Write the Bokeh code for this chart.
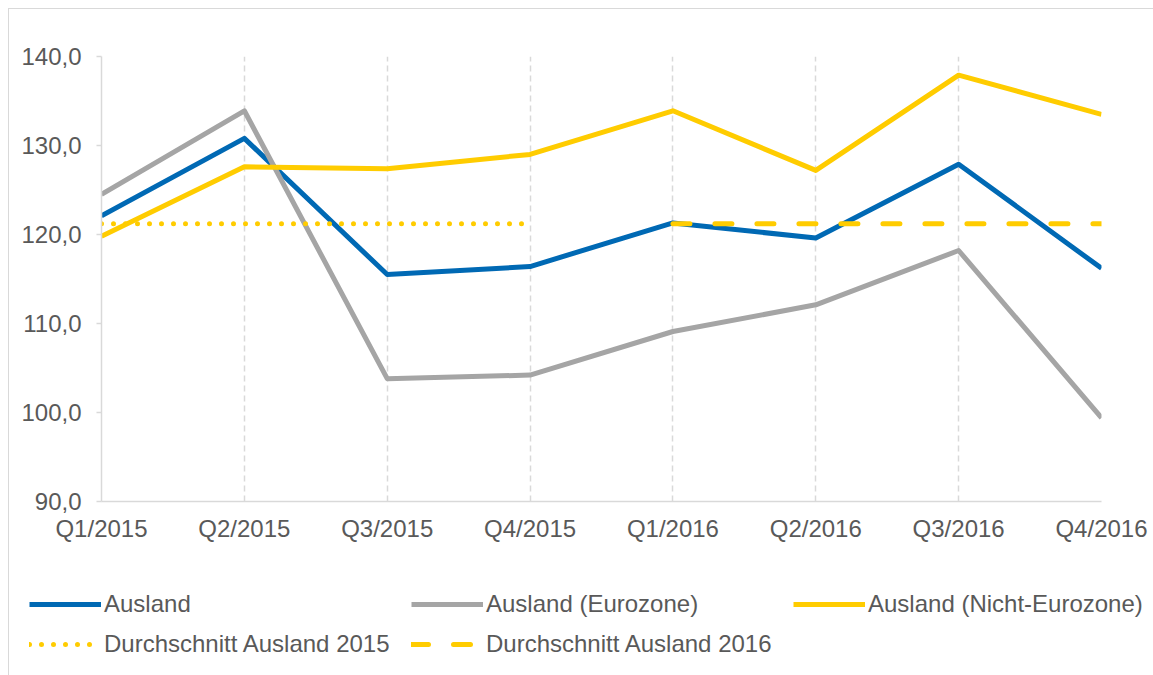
from bokeh.plotting import figure
from bokeh.models import Range1d, FixedTicker, Legend, LegendItem
from bokeh.layouts import column
from bokeh.embed import file_html
from bokeh.resources import INLINE

quarters = ["Q1/2015", "Q2/2015", "Q3/2015", "Q4/2015",
            "Q1/2016", "Q2/2016", "Q3/2016", "Q4/2016"]
ausland = [122.1, 130.8, 115.5, 116.4, 121.3, 119.6, 127.9, 116.2]
eurozone = [124.5, 133.9, 103.8, 104.2, 109.1, 112.1, 118.2, 99.4]
nicht_euro = [119.8, 127.6, 127.4, 129.0, 133.9, 127.2, 137.9, 133.5]
avg_2015 = 121.2
avg_2016 = 121.2
y_ticks = [90, 100, 110, 120, 130, 140]
y_labels = ["90,0", "100,0", "110,0", "120,0", "130,0", "140,0"]
series_names = ["Ausland", "Ausland (Eurozone)", "Ausland (Nicht-Eurozone)",
                "Durchschnitt Ausland 2015", "Durchschnitt Ausland 2016"]

BLUE = "#0069B4"
GREY = "#A5A5A5"
YELLOW = "#FFCC00"
TXT = "#595959"
AX = "#D9D9D9"
FONT = "Liberation Sans"
FS = "24px"

OFF = 8  # outer border offset
W, H = 1153 - OFF, 675 - OFF
H_LEG = 115
H_MAIN = H - H_LEG

styles_list = [
    dict(line_color=BLUE, line_width=5, line_join="round"),
    dict(line_color=GREY, line_width=5, line_join="round"),
    dict(line_color=YELLOW, line_width=5, line_join="round"),
    dict(line_color=YELLOW, line_width=5, line_dash="0 12", line_cap="round"),
    dict(line_color=YELLOW, line_width=5, line_dash="17 25", line_cap="round"),
]

x = list(range(len(quarters)))

p = figure(width=W, height=H_MAIN, output_backend="svg", toolbar_location=None,
           x_range=Range1d(0, len(quarters) - 1), y_range=Range1d(90, 140),
           min_border_left=92, min_border_right=53, min_border_top=47,
           min_border_bottom=60, frame_align=False)
p.outline_line_color = None
p.background_fill_color = "white"
p.border_fill_color = "white"

p.xaxis.ticker = FixedTicker(ticks=x)
p.xaxis.major_label_overrides = {i: q for i, q in enumerate(quarters)}
p.yaxis.ticker = FixedTicker(ticks=y_ticks)
p.yaxis.major_label_overrides = {t: l for t, l in zip(y_ticks, y_labels)}
for ax in (p.xaxis, p.yaxis):
    ax.axis_line_color = AX
    ax.axis_line_width = 1.5
    ax.major_label_text_color = TXT
    ax.major_label_text_font = FONT
    ax.major_label_text_font_size = FS
    ax.minor_tick_line_color = None
    ax.major_tick_line_color = AX
    ax.major_tick_line_width = 1.5
    ax.major_tick_in = 0
p.xaxis.major_tick_out = 0
p.xaxis.major_label_standoff = 13
p.yaxis.major_tick_out = 5
p.yaxis.major_label_standoff = 15

p.ygrid.grid_line_color = None
p.xgrid.ticker = FixedTicker(ticks=x[1:])
p.xgrid.grid_line_color = AX
p.xgrid.grid_line_width = 1.5
p.xgrid.grid_line_dash = "6 4"

p.line(x, ausland, **styles_list[0])
p.line(x, eurozone, **styles_list[1])
p.line(x, nicht_euro, **styles_list[2])
p.line(x[:4], [avg_2015] * 4, **styles_list[3])
p.line(x[4:], [avg_2016] * 4, **styles_list[4])

# legend panel (its own frame covers the whole strip)
q = figure(width=W, height=H_LEG, output_backend="svg", toolbar_location=None,
           x_range=Range1d(0, 1), y_range=Range1d(0, 1),
           min_border=0, x_axis_location=None, y_axis_location=None,
           frame_align=False)
q.outline_line_color = None
q.grid.grid_line_color = None
nan = float("nan")
dummies = [q.line([nan], [nan], **s) for s in styles_list]

def make_legend(idx, loc):
    items = [LegendItem(label=series_names[i], renderers=[dummies[i]]) for i in idx]
    lg = Legend(items=items, location=loc, orientation="horizontal",
                glyph_width=72, glyph_height=20, label_standoff=3,
                label_width=307, spacing=0, padding=0, margin=0,
                border_line_color=None, background_fill_alpha=0,
                label_text_font=FONT, label_text_font_size=FS,
                label_text_color=TXT, label_height=20)
    q.add_layout(lg, "center")

make_legend([0, 1, 2], (20, 58))
make_legend([3, 4], (20, 18))

layout = column(p, q, spacing=0, margin=(OFF, 0, 0, OFF),
                styles={"border-left": f"1.5px solid {AX}",
                        "border-top": f"1.5px solid {AX}"})

open("out.html", "w").write(file_html(layout, INLINE))
